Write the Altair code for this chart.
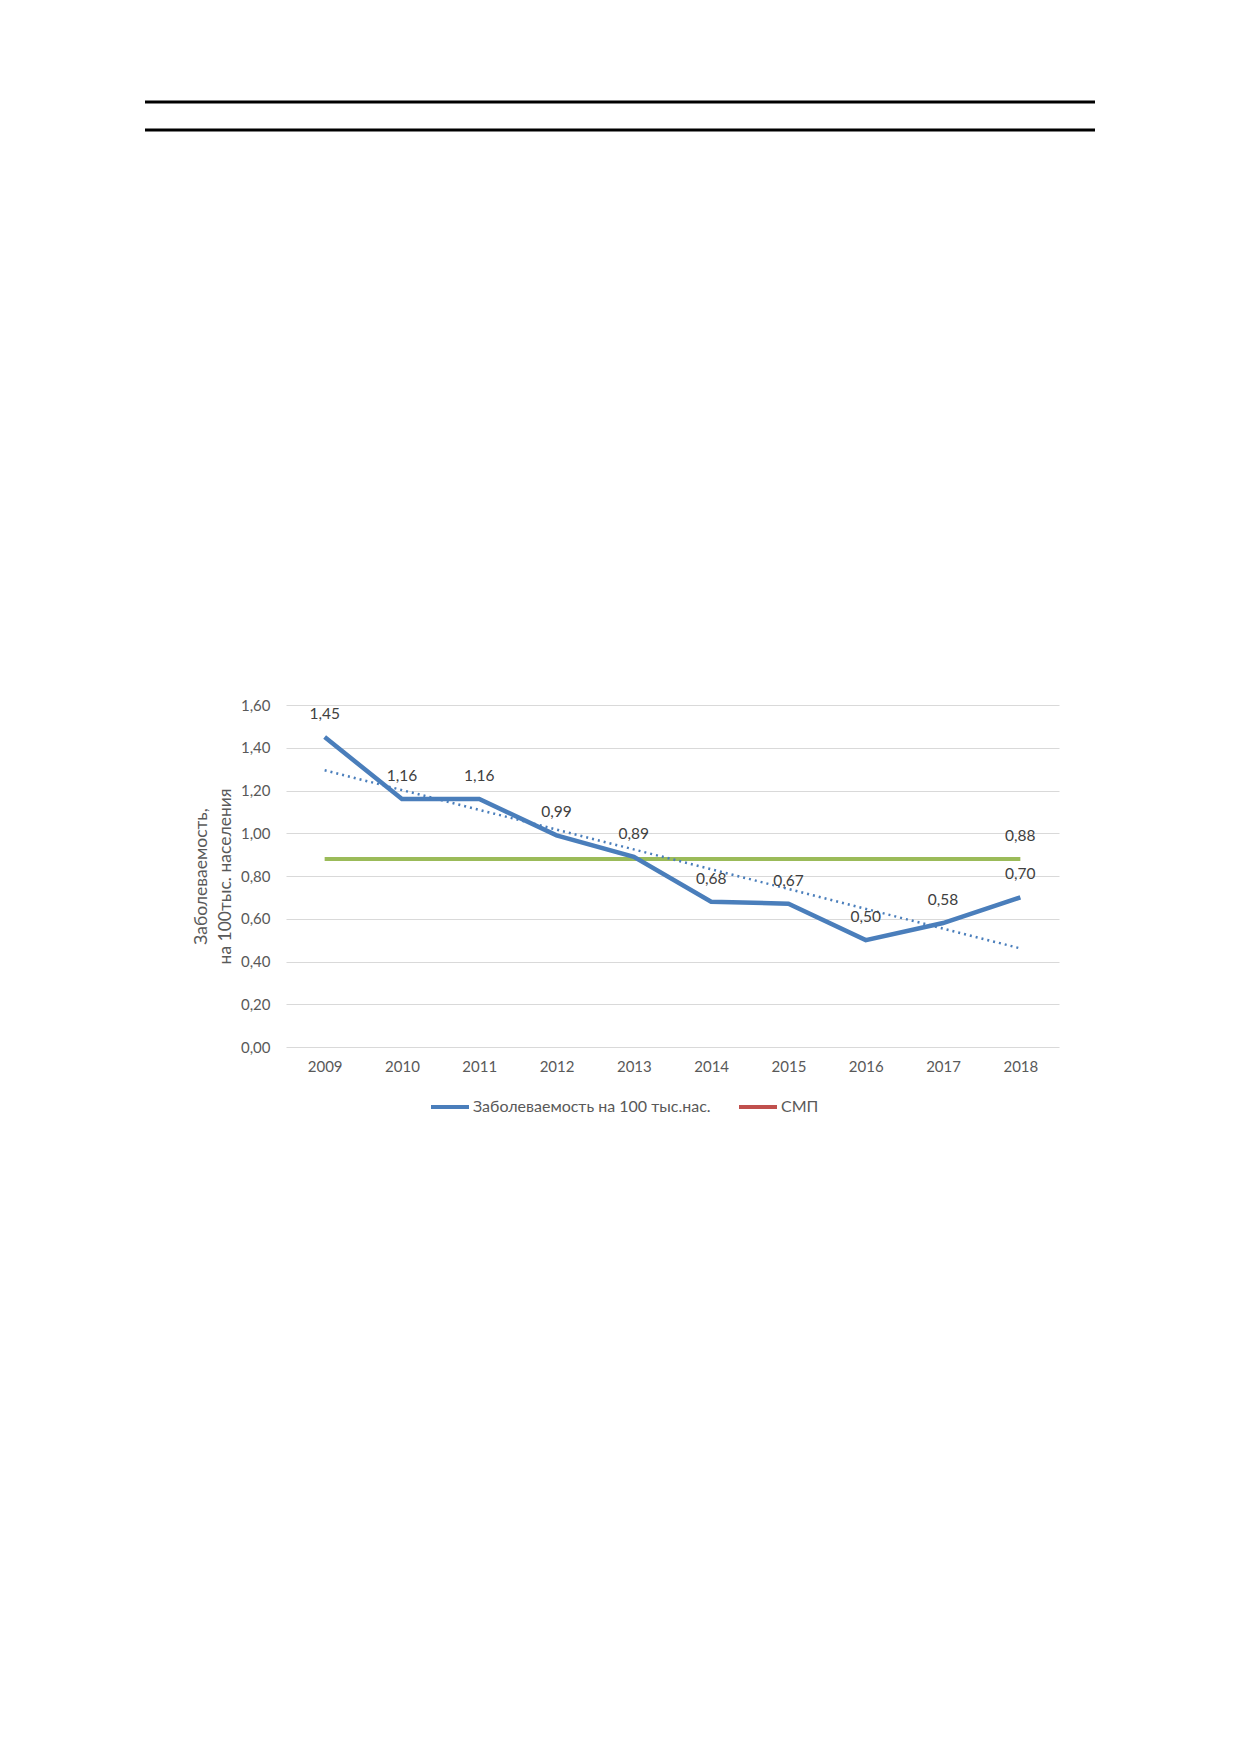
import altair as alt
import pandas as pd

# ---- data ----
years = ["2009", "2010", "2011", "2012", "2013", "2014", "2015", "2016", "2017", "2018"]
year_nums = [2009, 2010, 2011, 2012, 2013, 2014, 2015, 2016, 2017, 2018]
incidence = [1.45, 1.16, 1.16, 0.99, 0.89, 0.68, 0.67, 0.50, 0.58, 0.70]
smp = [0.88, 0.88, 0.88, 0.88, 0.88, 0.88, 0.88, 0.88, 0.88, 0.88]
series_names = ["Заболеваемость на 100 тыс.нас.", "СМП"]
y_ticks = [0.0, 0.2, 0.4, 0.6, 0.8, 1.0, 1.2, 1.4, 1.6]
y_title = ["Заболеваемость,", "на 100тыс. населения"]

BLUE = "#4A7EBB"
GREEN = "#9BBB59"
RED = "#C0504D"
GRID = "#D9D9D9"
LBL = "#595959"
FONT = "Lato, 'Noto Sans', sans-serif"

df_inc = pd.DataFrame({"year": years, "yr": year_nums, "value": incidence,
                       "series": series_names[0]})
df_smp = pd.DataFrame({"year": years, "value": smp, "series": series_names[1]})
df_rules = pd.DataFrame({"k": ["a", "b"]})

W, H = 773, 342

x_enc = alt.X("year:O", sort=years,
              scale=alt.Scale(type="point", padding=0.5, domain=years),
              axis=alt.Axis(title=None, domain=False, ticks=False, labelAngle=0,
                            labelFontSize=15, labelColor=LBL, labelFont=FONT,
                            labelPadding=12, grid=False))
y_scale = alt.Scale(domain=[0, 1.6], nice=False, zero=True)
y_enc = alt.Y("value:Q", scale=y_scale,
              axis=alt.Axis(values=y_ticks, title=y_title, domain=False, ticks=False,
                            grid=True, gridColor=GRID, gridWidth=1,
                            labelExpr="replace(format(datum.value, '.2f'), '.', ',')",
                            labelFontSize=15, labelColor=LBL, labelFont=FONT,
                            labelPadding=16, titleFontSize=17.5, titleColor=LBL,
                            titleFont=FONT, titleFontWeight="normal",
                            titlePadding=6, titleLineHeight=24))

base_inc = alt.Chart(df_inc)

smp_line = alt.Chart(df_smp).mark_line(strokeWidth=4, color=GREEN).encode(
    x=x_enc, y=y_enc)

inc_line = base_inc.mark_line(strokeWidth=4.5).encode(
    x=x_enc, y=y_enc,
    color=alt.Color("series:N",
                    scale=alt.Scale(domain=series_names, range=[BLUE, RED]),
                    legend=alt.Legend(orient="none", legendX=143, legendY=381,
                                      direction="horizontal", title=None,
                                      symbolType="stroke", symbolSize=1444,
                                      symbolStrokeWidth=4, labelFontSize=16,
                                      labelColor=LBL, labelFont=FONT, labelLimit=0,
                                      columnPadding=20, padding=0, labelOffset=2)))

trend = base_inc.transform_regression("yr", "value", method="linear").transform_calculate(
    year="toString(datum.yr)").mark_line(
    strokeWidth=2.5, color=BLUE, strokeDash=[2, 4]).encode(x=x_enc, y=y_enc)

inc_text = base_inc.transform_calculate(
    lbl="replace(format(datum.value, '.2f'), '.', ',')").mark_text(
    dy=-23, fontSize=15.5, color="#404040", font=FONT, baseline="middle").encode(
    x=x_enc, y=y_enc, text="lbl:N")

smp_text = alt.Chart(df_smp).transform_filter(
    alt.datum.year == years[-1]).transform_calculate(
    lbl="replace(format(datum.value, '.2f'), '.', ',')").mark_text(
    dy=-23, fontSize=15.5, color="#404040", font=FONT, baseline="middle").encode(
    x=x_enc, y=y_enc, text="lbl:N")

rule1 = alt.Chart(df_rules).transform_filter(alt.datum.k == "a").mark_rule(
    color="black", strokeWidth=3).encode(
    x=alt.value(-141), x2=alt.value(809), y=alt.value(-603))
rule2 = alt.Chart(df_rules).transform_filter(alt.datum.k == "b").mark_rule(
    color="black", strokeWidth=3).encode(
    x=alt.value(-141), x2=alt.value(809), y=alt.value(-575))

chart = alt.layer(smp_line, inc_line, trend, inc_text, smp_text, rule1, rule2).properties(
    width=W, height=H,
    autosize=alt.AutoSizeParams(type="none"),
    padding={"left": 278, "top": 697, "right": 170, "bottom": 200},
).configure(background="white").configure_view(stroke=None, strokeWidth=0)

chart.save("out.html", embed_options={"renderer": "svg", "actions": False})
